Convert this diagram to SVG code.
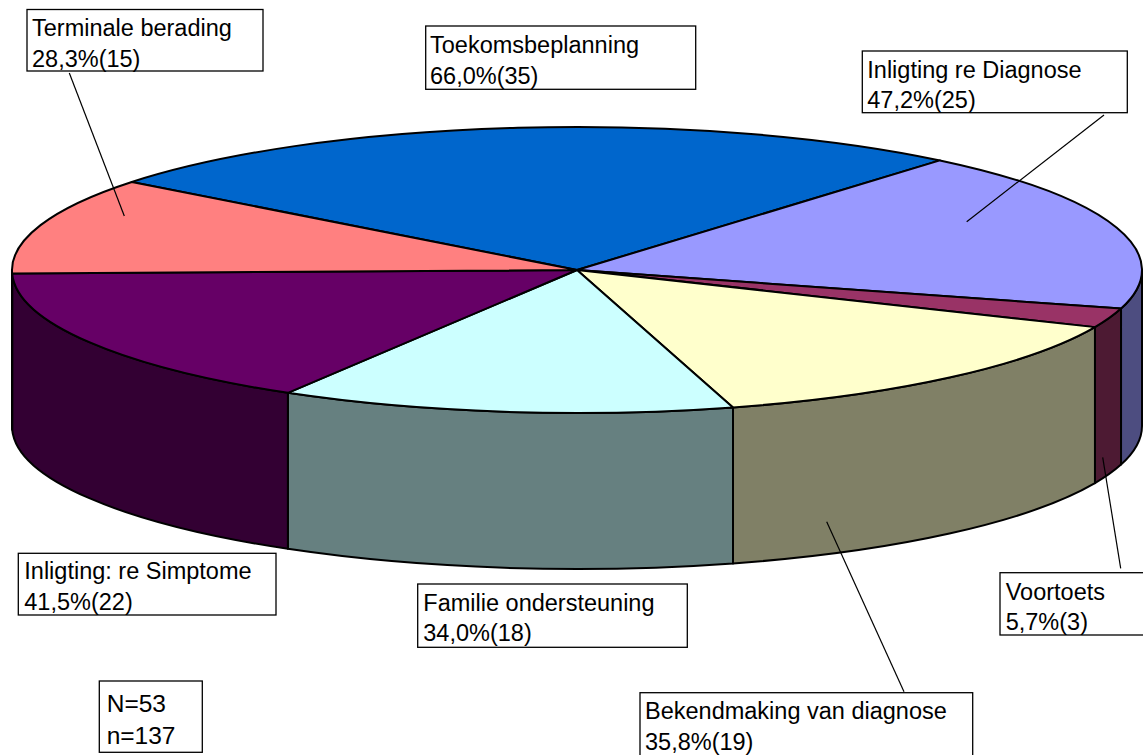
<svg xmlns="http://www.w3.org/2000/svg" width="1143" height="755" viewBox="0 0 1143 755">
<style>
.s{stroke:#000;stroke-width:2;stroke-linejoin:round}
.box{fill:#fff;stroke:#000;stroke-width:1.3}
.t{font-family:"Liberation Sans",Arial,sans-serif;font-size:23.5px;fill:#000}
.n{font-family:"Liberation Sans",Arial,sans-serif;font-size:24.5px;fill:#000}
.ld{stroke:#000;stroke-width:1.2;fill:none}
</style>
<rect width="1143" height="755" fill="#fff"/>
<g id="pie-sides">
<path class="s" fill="#4D4D80" d="M1142 270 A565 143 0 0 1 1121.02 308.61 L1121.02 464.61 A565 143 0 0 0 1142 426 Z"/>
<path class="s" fill="#4D1A33" d="M1121.02 308.61 A565 143 0 0 1 1094.95 327.13 L1094.95 483.13 A565 143 0 0 0 1121.02 464.61 Z"/>
<path class="s" fill="#808066" d="M1094.95 327.13 A565 143 0 0 1 733 407.44 L733 563.44 A565 143 0 0 0 1094.95 483.13 Z"/>
<path class="s" fill="#668080" d="M733 407.44 A565 143 0 0 1 287.88 392.86 L287.88 548.86 A565 143 0 0 0 733 563.44 Z"/>
<path class="s" fill="#330033" d="M287.88 392.86 A565 143 0 0 1 12.17 273.54 L12.17 429.54 A565 143 0 0 0 287.88 548.86 Z"/>
<path class="s" fill="#804040" d="M12.17 273.54 A565 143 0 0 1 12 270 L12 426 A565 143 0 0 0 12.17 429.54 Z"/>
</g>
<g id="pie-top">
<path id="slice-toekoms" class="s" fill="#0066CC" d="M577 270 L131.77 181.96 A565 143 0 0 1 939.95 160.41 Z"/>
<path id="slice-diagnose" class="s" fill="#9999FF" d="M577 270 L939.95 160.41 A565 143 0 0 1 1121.02 308.61 Z"/>
<path id="slice-voortoets" class="s" fill="#993366" d="M577 270 L1121.02 308.61 A565 143 0 0 1 1094.95 327.13 Z"/>
<path id="slice-bekend" class="s" fill="#FFFFCC" d="M577 270 L1094.95 327.13 A565 143 0 0 1 733 407.44 Z"/>
<path id="slice-familie" class="s" fill="#CCFFFF" d="M577 270 L733 407.44 A565 143 0 0 1 287.88 392.86 Z"/>
<path id="slice-simptome" class="s" fill="#660066" d="M577 270 L287.88 392.86 A565 143 0 0 1 12.17 273.54 Z"/>
<path id="slice-terminale" class="s" fill="#FF8080" d="M577 270 L12.17 273.54 A565 143 0 0 1 131.77 181.96 Z"/>
</g>
<g id="connectors">
<line class="ld" x1="69.3" y1="73" x2="124.3" y2="216"/>
<line class="ld" x1="1104" y1="115" x2="966.7" y2="221.7"/>
<line class="ld" x1="1120.7" y1="568.3" x2="1102.7" y2="457.3"/>
<line class="ld" x1="826.7" y1="521.7" x2="904" y2="691.7"/>
</g>
<g id="label-terminale">
<rect class="box" x="27" y="9.5" width="236" height="61.5"/>
<text class="t" x="32" y="35.5">Terminale berading</text>
<text class="t" x="32" y="66.5">28,3%(15)</text>
</g>
<g id="label-toekoms">
<rect class="box" x="425.7" y="26" width="270" height="63.3"/>
<text class="t" x="430" y="53.3">Toekomsbeplanning</text>
<text class="t" x="430" y="84.3">66,0%(35)</text>
</g>
<g id="label-diagnose">
<rect class="box" x="862.3" y="51" width="265" height="61.7"/>
<text class="t" x="867.3" y="77.7">Inligting re Diagnose</text>
<text class="t" x="867.3" y="108.3">47,2%(25)</text>
</g>
<g id="label-simptome">
<rect class="box" x="18.3" y="553.3" width="257.7" height="61.7"/>
<text class="t" x="24.3" y="579.3">Inligting: re Simptome</text>
<text class="t" x="24.3" y="610">41,5%(22)</text>
</g>
<g id="label-familie">
<rect class="box" x="417.7" y="584" width="269.6" height="63.3"/>
<text class="t" x="423.3" y="610.7">Familie ondersteuning</text>
<text class="t" x="423.3" y="640.7">34,0%(18)</text>
</g>
<g id="label-voortoets">
<rect class="box" x="1000" y="572.7" width="160" height="62.3"/>
<text class="t" x="1005.7" y="600">Voortoets</text>
<text class="t" x="1005.7" y="630">5,7%(3)</text>
</g>
<g id="label-bekend">
<rect class="box" x="640" y="692.7" width="332.7" height="80"/>
<text class="t" x="645" y="719">Bekendmaking van diagnose</text>
<text class="t" x="645" y="750">35,8%(19)</text>
</g>
<g id="label-n">
<rect class="box" x="99.3" y="681" width="103" height="71.3"/>
<text class="n" x="106.7" y="711.7">N=53</text>
<text class="n" x="106.7" y="744.3">n=137</text>
</g>
</svg>
